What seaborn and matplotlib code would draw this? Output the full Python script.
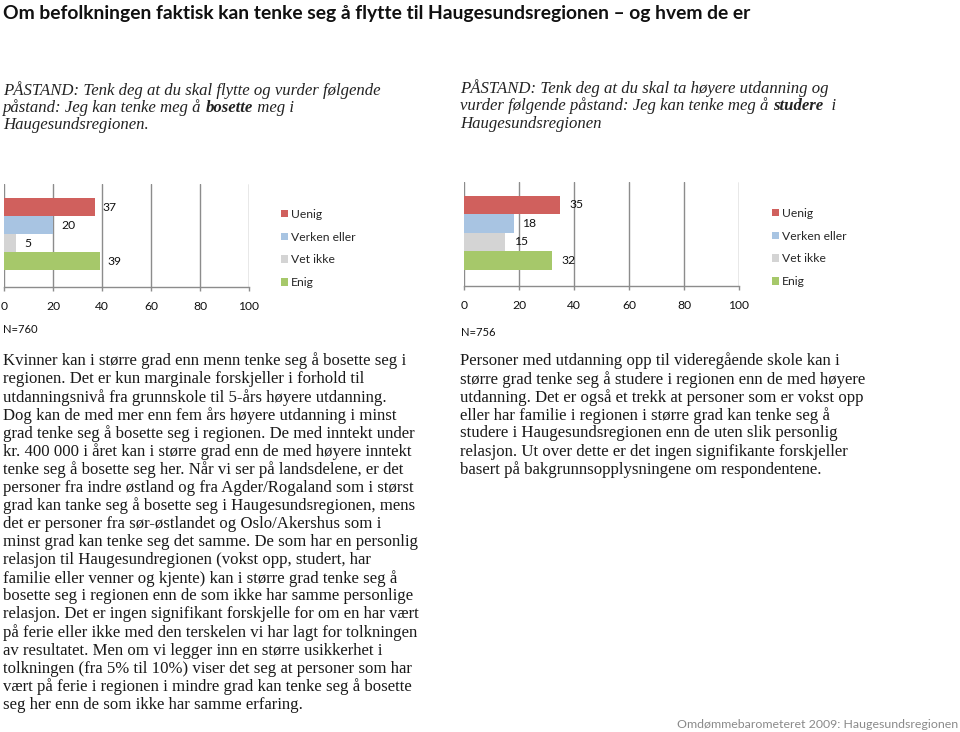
import matplotlib
matplotlib.use("Agg")
import matplotlib.pyplot as plt
from matplotlib.patches import Patch
import seaborn as sns
import pandas as pd

# ---------------- data ----------------
categories = ["Uenig", "Verken eller", "Vet ikke", "Enig"]
bosette_values = [37, 20, 5, 39]
studere_values = [35, 18, 15, 32]
x_ticks = [0, 20, 40, 60, 80, 100]
n_bosette = "N=760"
n_studere = "N=756"

title_text = "Om befolkningen faktisk kan tenke seg å flytte til Haugesundsregionen – og hvem de er"
footer_text = "Omdømmebarometeret 2009: Haugesundsregionen"

claim_left = [
    [("PÅSTAND: Tenk deg at du skal flytte og vurder følgende", "normal")],
    [("påstand: Jeg kan tenke meg å ", "normal"), ("bosette", "bold"), (" meg i", "normal")],
    [("Haugesundsregionen.", "normal")],
]
claim_right = [
    [("PÅSTAND: Tenk deg at du skal ta høyere utdanning og", "normal")],
    [("vurder følgende påstand: Jeg kan tenke meg å ", "normal"), ("studere", "bold"), ("  i", "normal")],
    [("Haugesundsregionen", "normal")],
]

body_left = [
    "Kvinner kan i større grad enn menn tenke seg å bosette seg i",
    "regionen. Det er kun marginale forskjeller i forhold til",
    "utdanningsnivå fra grunnskole til 5-års høyere utdanning.",
    "Dog kan de med mer enn fem års høyere utdanning i minst",
    "grad tenke seg å bosette seg i regionen. De med inntekt under",
    "kr. 400 000 i året kan i større grad enn de med høyere inntekt",
    "tenke seg å bosette seg her. Når vi ser på landsdelene, er det",
    "personer fra indre østland og fra Agder/Rogaland som i størst",
    "grad kan tanke seg å bosette seg i Haugesundsregionen, mens",
    "det er personer fra sør-østlandet og Oslo/Akershus som i",
    "minst grad kan tenke seg det samme. De som har en personlig",
    "relasjon til Haugesundregionen (vokst opp, studert, har",
    "familie eller venner og kjente) kan i større grad tenke seg å",
    "bosette seg i regionen enn de som ikke har samme personlige",
    "relasjon. Det er ingen signifikant forskjelle for om en har vært",
    "på ferie eller ikke med den terskelen vi har lagt for tolkningen",
    "av resultatet. Men om vi legger inn en større usikkerhet i",
    "tolkningen (fra 5% til 10%) viser det seg at personer som har",
    "vært på ferie i regionen i mindre grad kan tenke seg å bosette",
    "seg her enn de som ikke har samme erfaring.",
]
body_right = [
    "Personer med utdanning opp til videregående skole kan i",
    "større grad tenke seg å studere i regionen enn de med høyere",
    "utdanning. Det er også et trekk at personer som er vokst opp",
    "eller har familie i regionen i større grad kan tenke seg å",
    "studere i Haugesundsregionen enn de uten slik personlig",
    "relasjon. Ut over dette er det ingen signifikante forskjeller",
    "basert på bakgrunnsopplysningene om respondentene.",
]

colors = ["#D0605D", "#A8C4E2", "#D4D4D4", "#A6C86A"]

# ---------------- figure ----------------
sns.set_theme(style="white")
plt.rcParams["font.family"] = ["Lato", "DejaVu Sans"]

W, H = 960, 732
fig = plt.figure(figsize=(W / 100, H / 100), dpi=100)
fig.patch.set_facecolor("white")
renderer = fig.canvas.get_renderer()


def fx(px):
    return px / W


def fy(py):
    return 1 - py / H


def fit(t, target_w):
    bb = t.get_window_extent(renderer)
    t.set_fontsize(t.get_fontsize() * target_w / bb.width)
    return t.get_fontsize()


def measure_size(text, family, target_w, **kw):
    t = fig.text(0, 0, text, family=family, fontsize=10, **kw)
    s = fit(t, target_w)
    t.remove()
    return s


serif = ["Liberation Serif", "DejaVu Serif"]
sans = ["Lato", "DejaVu Sans"]

# chart text size (Calibri-like)
chart_fs = measure_size("Verken eller", sans, 58) * 1.12

# title
tt = fig.text(fx(3), fy(14), title_text, family=sans, fontweight="bold",
              fontsize=14, va="center", ha="left", color="#111111")
fit(tt, 754)

# footer
ft = fig.text(fx(958), fy(724), footer_text, family=sans, fontsize=10,
              va="center", ha="right", color="#8a8a8a")
fit(ft, 958 - 676)


def rich_lines(x0, ys, lines, fs):
    for y, runs in zip(ys, lines):
        xp = x0
        for txt, wt in runs:
            t = fig.text(fx(xp), fy(y), txt, family=serif, style="italic",
                         fontweight=wt, fontsize=fs, va="center", ha="left",
                         color="#222222")
            bb = t.get_window_extent(renderer)
            xp += bb.width


claim_fs = measure_size(claim_left[0][0][0], serif, 380, style="italic")
rich_lines(3, [90, 107.5, 125], claim_left, claim_fs)
rich_lines(460, [88, 106, 124], claim_right, claim_fs)

body_fs = measure_size(body_left[5], serif, 410)
for i, line in enumerate(body_left):
    fig.text(fx(3), fy(361 + 18.1 * i), line, family=serif, fontsize=body_fs,
             va="center", ha="left", color="#1a1a1a")
for i, line in enumerate(body_right):
    fig.text(fx(460), fy(361 + 18.1 * i), line, family=serif, fontsize=body_fs,
             va="center", ha="left", color="#1a1a1a")


def bar_chart(rect_px, values, ylim, pad_px, legend_px, n_text, n_pos):
    x0, top, x1, bottom = rect_px
    ax = fig.add_axes([fx(x0), fy(bottom), fx(x1 - x0), (bottom - top) / H])
    df = pd.DataFrame({"kategori": categories, "prosent": values})
    sns.barplot(data=df, x="prosent", y="kategori", hue="kategori",
                palette=colors, hue_order=categories, order=categories,
                orient="h", width=1.0, legend=False, ax=ax, saturation=1,
                linewidth=0)
    ax.set_xlim(0, 100)
    ax.set_ylim(*ylim)
    ax.set_xticks(x_ticks)
    ax.set_xticklabels([str(v) for v in x_ticks], fontsize=chart_fs, color="#111111")
    ax.set_yticks([])
    ax.set_xlabel("")
    ax.set_ylabel("")
    ax.grid(axis="x", color="#8c8c8c", linewidth=1.0)
    ax.grid(axis="y", visible=False)
    ax.set_axisbelow(True)
    for s in ["top", "right", "left"]:
        ax.spines[s].set_visible(False)
    ax.spines["bottom"].set_color("#8c8c8c")
    ax.spines["bottom"].set_linewidth(1.0)
    ax.tick_params(axis="x", bottom=True, length=3, width=1.0, color="#8c8c8c",
                   pad=7, direction="out")
    for c in ax.containers:
        ax.bar_label(c, fmt="%d", padding=pad_px * 0.72, fontsize=chart_fs,
                     color="#111111", family=sans)
    handles = [Patch(facecolor=c, edgecolor="none") for c in colors]
    fig.legend(handles, categories, loc="center left",
               bbox_to_anchor=(fx(legend_px[0]), fy(legend_px[1])),
               frameon=False, handlelength=0.55,
               handleheight=0.55, handletextpad=0.3, labelspacing=0.97,
               borderpad=0, borderaxespad=0, prop={"family": sans, "size": chart_fs})
    fig.text(fx(n_pos[0]), fy(n_pos[1]), n_text, family=sans,
             fontsize=chart_fs * 0.92, va="center", ha="left", color="#111111")
    return ax


bar_chart((4, 184, 249, 287), bosette_values, (4.44, -1.28), 8,
          (281, 248.5), n_bosette, (3, 330))
bar_chart((464, 182, 739, 286), studere_values, (4.38, -1.24), 9,
          (772, 247.5), n_studere, (461, 333))

fig.savefig("out.png", dpi=100, facecolor="white")
